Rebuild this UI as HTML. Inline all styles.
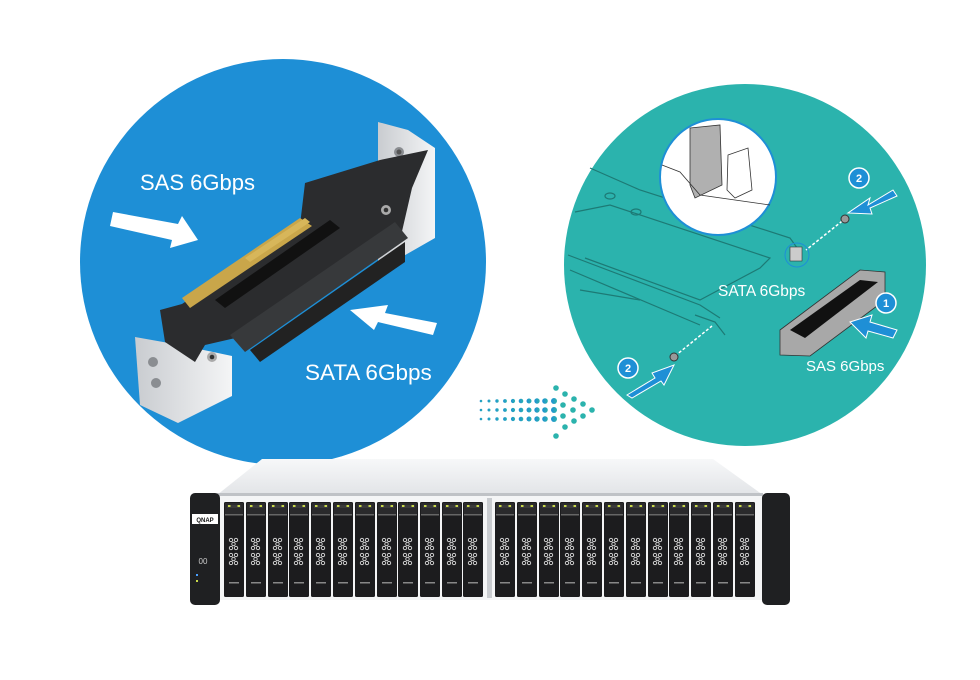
<!DOCTYPE html>
<html><head><meta charset="utf-8"><style>
html,body{margin:0;padding:0;background:#fff;}
svg{display:block;}
text{font-family:"Liberation Sans",sans-serif;}
</style></head><body>
<svg width="980" height="680" viewBox="0 0 980 680" xmlns="http://www.w3.org/2000/svg">
<defs>
<linearGradient id="lid" x1="0" y1="0" x2="0" y2="1"><stop offset="0" stop-color="#f7f8f9"/><stop offset="1" stop-color="#e2e4e7"/></linearGradient>
<linearGradient id="silver" x1="0" y1="0" x2="1" y2="0"><stop offset="0" stop-color="#c9ccd0"/><stop offset="1" stop-color="#f4f5f6"/></linearGradient>
<linearGradient id="dots" x1="0" y1="0" x2="1" y2="0"><stop offset="0" stop-color="#1e8fd6"/><stop offset="1" stop-color="#2bb3ad"/></linearGradient>
<g id="hex">
<circle cx="3" cy="3" r="1.7" fill="none" stroke="#ddd" stroke-width="0.9"/><circle cx="8" cy="3" r="1.7" fill="none" stroke="#ddd" stroke-width="0.9"/>
<circle cx="5.5" cy="7" r="1.7" fill="none" stroke="#ddd" stroke-width="0.9"/><circle cx="3" cy="11" r="1.7" fill="none" stroke="#ddd" stroke-width="0.9"/><circle cx="8" cy="11" r="1.7" fill="none" stroke="#ddd" stroke-width="0.9"/>
</g>
<g id="bay">
<rect x="0" y="0" width="20" height="95" rx="1.5" fill="#1c1c1e"/>
<rect x="1" y="1" width="18" height="11" fill="#2a2a2c"/>
<rect x="3" y="3" width="14" height="3" fill="#3a3a3a"/>
<rect x="4" y="3" width="2.5" height="2" fill="#c8d84a"/><rect x="13.5" y="3" width="2.5" height="2" fill="#c8d84a"/>
<rect x="1" y="12" width="18" height="1.5" fill="#666"/>
<use href="#hex" x="4" y="35"/><use href="#hex" x="4" y="50"/>
<rect x="5" y="80" width="10" height="1.5" fill="#888"/>
</g>
</defs>

<circle cx="283" cy="262" r="203" fill="#1e8fd6"/>
<circle cx="745" cy="265" r="181" fill="#2bb3ad"/>

<!-- left connector -->
<polygon points="378,122 408,130 435,148 435,238 400,258 378,268" fill="url(#silver)"/>
<circle cx="399" cy="152" r="5" fill="#8a8d91"/><circle cx="399" cy="152" r="2.5" fill="#555"/>
<polygon points="135,337 180,345 232,356 232,396 178,423 140,405" fill="url(#silver)"/>
<circle cx="153" cy="362" r="5" fill="#8a8d91"/><circle cx="156" cy="383" r="5" fill="#8a8d91"/>
<polygon points="160,310 182,304 300,225 305,183 380,160 428,150 412,188 400,240 270,330 205,345 195,362 165,342" fill="#2b2c2e"/>
<polygon points="182,298 300,218 312,226 190,308" fill="#c9a64a"/>
<polygon points="245,258 305,218 310,222 250,262" fill="#d7b65a"/>
<polygon points="215,300 330,220 340,228 225,308" fill="#111"/>
<polygon points="230,335 395,222 408,238 245,352" fill="#37393b"/>
<polygon points="250,350 405,242 405,262 260,362" fill="#222"/>
<circle cx="212" cy="357" r="5" fill="#aaa"/><circle cx="212" cy="357" r="2.3" fill="#333"/>
<circle cx="386" cy="210" r="5" fill="#aaa"/><circle cx="386" cy="210" r="2.3" fill="#333"/>
<polygon points="113,212 178,224 182,216 198,240 170,248 172,240 110,226" fill="#fff"/>
<polygon points="437,323 385,313 388,305 350,310 374,330 378,322 433,335" fill="#fff"/>
<text x="140" y="190" font-size="22" fill="#fff">SAS 6Gbps</text>
<text x="305" y="380" font-size="22.5" fill="#fff">SATA 6Gbps</text>

<!-- teal circle hardware sketch -->
<g fill="none" stroke="#1d7a75" stroke-width="1.2">
<polyline points="590,168 640,190 790,238 800,252"/>
<polyline points="575,212 610,205 770,258 760,268 700,300 585,258"/>
<polyline points="568,255 700,305 720,318"/>
<polyline points="570,270 700,325"/>
<polyline points="580,290 640,300"/>
<ellipse cx="610" cy="196" rx="5" ry="3"/><ellipse cx="636" cy="212" rx="5" ry="3"/>
<polyline points="695,315 715,322 725,335"/>
</g>
<circle cx="718" cy="177" r="58" fill="#fff" stroke="#1e8fd6" stroke-width="2"/>
<g fill="#b0b0b0" stroke="#333" stroke-width="0.8">
<polygon points="690,128 720,125 722,185 695,198 690,185"/>
<polygon points="728,155 748,148 752,190 735,198 727,190" fill="#fff"/>
</g>
<polyline points="662,165 680,172 700,195 770,205" fill="none" stroke="#333" stroke-width="0.8"/>
<circle cx="797" cy="255" r="12" fill="none" stroke="#1e8fd6" stroke-width="1"/>
<rect x="790" y="247" width="12" height="14" fill="#ccc" stroke="#333" stroke-width="0.6"/>
<line x1="846" y1="218" x2="806" y2="250" stroke="#fff" stroke-width="1.5" stroke-dasharray="3,2"/>
<circle cx="845" cy="219" r="4" fill="#999" stroke="#333"/>
<line x1="675" y1="356" x2="712" y2="326" stroke="#fff" stroke-width="1.5" stroke-dasharray="3,2"/>
<circle cx="674" cy="357" r="4" fill="#999" stroke="#333"/>
<polygon points="780,330 860,270 885,272 885,300 810,356 780,355" fill="#a8a8a8" stroke="#333" stroke-width="0.8"/>
<polygon points="790,330 860,280 878,282 805,338" fill="#111"/>
<polygon points="893,190 868,205 870,198 848,213 872,214 870,208 897,196" fill="#1e8fd6" stroke="#fff" stroke-width="1"/>
<polygon points="897,330 870,322 872,315 850,322 866,338 868,331 893,338" fill="#1e8fd6" stroke="#fff" stroke-width="1"/>
<polygon points="627,395 655,378 652,373 674,365 664,385 661,381 632,398" fill="#1e8fd6" stroke="#fff" stroke-width="1"/>
<g font-size="11" font-weight="bold" fill="#fff" text-anchor="middle">
<circle cx="859" cy="178" r="10" fill="#1e8fd6" stroke="#fff" stroke-width="1.5"/><text x="859" y="182">2</text>
<circle cx="886" cy="303" r="10" fill="#1e8fd6" stroke="#fff" stroke-width="1.5"/><text x="886" y="307">1</text>
<circle cx="628" cy="368" r="10" fill="#1e8fd6" stroke="#fff" stroke-width="1.5"/><text x="628" y="372">2</text>
</g>
<text x="718" y="296" font-size="15.5" fill="#fff">SATA 6Gbps</text>
<text x="806" y="371" font-size="15" fill="#fff">SAS 6Gbps</text>

<!-- dots arrow -->
<g fill="url(#dots)">
<circle cx="481" cy="401" r="1.3"/><circle cx="489" cy="401" r="1.5"/><circle cx="497" cy="401" r="1.7"/><circle cx="505" cy="401" r="1.9"/><circle cx="513" cy="401" r="2.1"/><circle cx="521" cy="401" r="2.3"/><circle cx="529" cy="401" r="2.5"/><circle cx="537" cy="401" r="2.7"/><circle cx="545" cy="401" r="2.8"/><circle cx="554" cy="401" r="3"/>
<circle cx="481" cy="410" r="1.3"/><circle cx="489" cy="410" r="1.5"/><circle cx="497" cy="410" r="1.7"/><circle cx="505" cy="410" r="1.9"/><circle cx="513" cy="410" r="2.1"/><circle cx="521" cy="410" r="2.3"/><circle cx="529" cy="410" r="2.5"/><circle cx="537" cy="410" r="2.7"/><circle cx="545" cy="410" r="2.8"/><circle cx="554" cy="410" r="3"/>
<circle cx="481" cy="419" r="1.3"/><circle cx="489" cy="419" r="1.5"/><circle cx="497" cy="419" r="1.7"/><circle cx="505" cy="419" r="1.9"/><circle cx="513" cy="419" r="2.1"/><circle cx="521" cy="419" r="2.3"/><circle cx="529" cy="419" r="2.5"/><circle cx="537" cy="419" r="2.7"/><circle cx="545" cy="419" r="2.8"/><circle cx="554" cy="419" r="3"/>
</g>
<g fill="#2bb3ad">
<circle cx="556" cy="388" r="2.8"/><circle cx="565" cy="394" r="2.8"/><circle cx="574" cy="399" r="2.8"/><circle cx="583" cy="404" r="2.8"/>
<circle cx="563" cy="405" r="2.8"/><circle cx="573" cy="410" r="2.8"/><circle cx="592" cy="410" r="2.8"/>
<circle cx="563" cy="416" r="2.8"/><circle cx="583" cy="416" r="2.8"/>
<circle cx="574" cy="421" r="2.8"/><circle cx="565" cy="427" r="2.8"/><circle cx="556" cy="436" r="2.8"/>
</g>

<!-- server -->
<polygon points="262,459 713,459 763,495 217,495" fill="url(#lid)"/>
<rect x="217" y="493" width="546" height="3" fill="#bfc2c6"/>
<rect x="217" y="496" width="546" height="104" fill="#f4f5f6"/>
<rect x="487" y="498" width="5" height="100" fill="#c9ccd0"/>
<g>
<use href="#bay" x="224" y="502"/><use href="#bay" x="246" y="502"/><use href="#bay" x="268" y="502"/><use href="#bay" x="289" y="502"/>
<use href="#bay" x="311" y="502"/><use href="#bay" x="333" y="502"/><use href="#bay" x="355" y="502"/><use href="#bay" x="377" y="502"/>
<use href="#bay" x="398" y="502"/><use href="#bay" x="420" y="502"/><use href="#bay" x="442" y="502"/><use href="#bay" x="463" y="502"/>
<use href="#bay" x="495" y="502"/><use href="#bay" x="517" y="502"/><use href="#bay" x="539" y="502"/><use href="#bay" x="560" y="502"/>
<use href="#bay" x="582" y="502"/><use href="#bay" x="604" y="502"/><use href="#bay" x="626" y="502"/><use href="#bay" x="648" y="502"/>
<use href="#bay" x="669" y="502"/><use href="#bay" x="691" y="502"/><use href="#bay" x="713" y="502"/><use href="#bay" x="735" y="502"/>
</g>
<rect x="190" y="493" width="30" height="112" rx="5" fill="#1f2022"/>
<rect x="192" y="514" width="26" height="10" fill="#fff"/>
<text x="205" y="522" font-size="6" font-weight="bold" fill="#111" text-anchor="middle">QNAP</text>
<text x="203" y="564" font-size="8" fill="#ccc" text-anchor="middle">00</text>
<rect x="196" y="574" width="2" height="2" fill="#4aa0ff"/><rect x="196" y="580" width="2" height="2" fill="#c8d84a"/>
<rect x="762" y="493" width="28" height="112" rx="5" fill="#1f2022"/>
</svg>
</body></html>
